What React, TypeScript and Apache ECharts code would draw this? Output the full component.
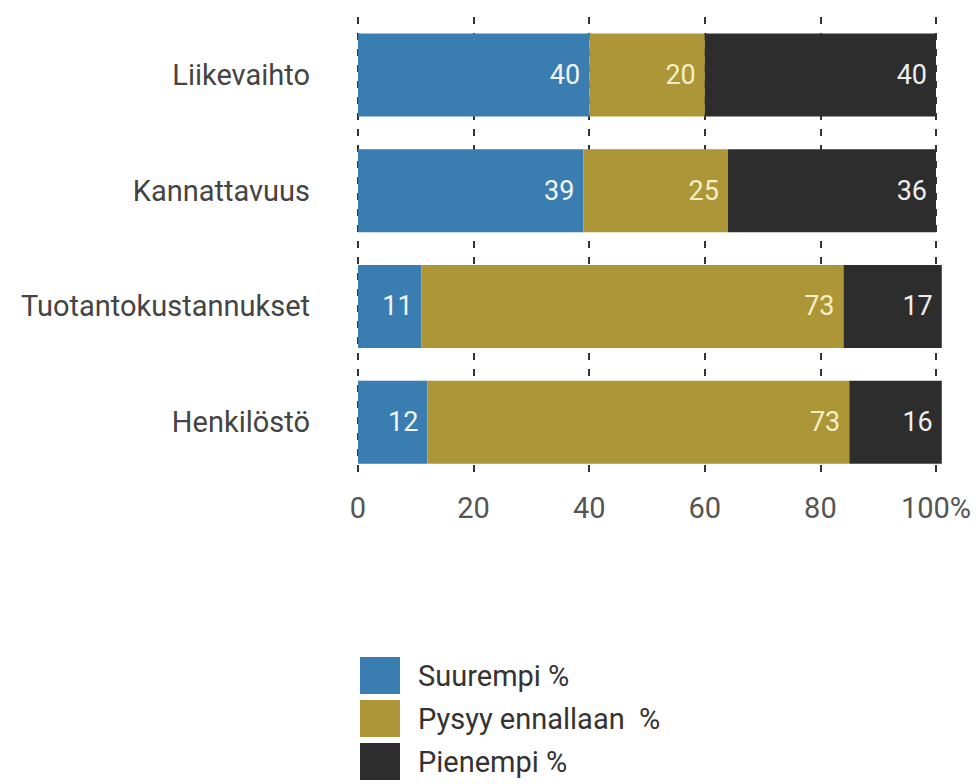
import React, { useEffect, useRef } from "react";
import * as echarts from "echarts";

const categories = ["Liikevaihto", "Kannattavuus", "Tuotantokustannukset", "Henkilöstö"];
const seriesNames = ["Suurempi %", "Pysyy ennallaan  %", "Pienempi %"];
const suurempi = [40, 39, 11, 12];
const pysyy = [20, 25, 73, 73];
const pienempi = [40, 36, 17, 16];
const colors = ["#3a7db0", "#ad9637", "#2d2d2d"];
const labelColors = ["#f2f6fa", "#f6efc6", "#eeeeee"];

const FONT = "Roboto, 'Noto Sans', sans-serif";

export default function App() {
  const ref = useRef<HTMLDivElement>(null);
  useEffect(() => {
    if (!ref.current) return;
    document.body.style.margin = "0";
    const chart = echarts.init(ref.current, null, { renderer: "svg" });
    const data = [suurempi, pysyy, pienempi];
    chart.setOption({
      animation: false,
      textStyle: { fontFamily: FONT },
      grid: { left: 358, right: 44, top: 17, bottom: 304, containLabel: false },
      legend: {
        orient: "vertical",
        left: 360,
        top: 657,
        padding: 0,
        itemWidth: 40,
        itemHeight: 37,
        itemGap: 6,
        icon: "rect",
        textStyle: { fontSize: 29, color: "#333", fontFamily: FONT, padding: [0, 0, 0, 13] },
        data: seriesNames,
      },
      xAxis: {
        type: "value",
        min: 0,
        max: 100,
        interval: 20,
        axisLine: { show: false },
        axisTick: { show: false },
        axisLabel: {
          fontSize: 29,
          color: "#555",
          margin: 13,
          fontFamily: FONT,
          formatter: (v: number) => (v === 100 ? "100%" : String(v)),
        },
        splitLine: { show: true, lineStyle: { color: "#333", width: 2, type: [7, 9] } },
      },
      yAxis: {
        type: "category",
        inverse: true,
        data: categories,
        axisLine: { show: false },
        axisTick: { show: false },
        axisLabel: { fontSize: 29, color: "#444", margin: 48, fontFamily: FONT },
      },
      series: seriesNames.map((name, i) => ({
        name,
        type: "bar",
        stack: "total",
        clip: false,
        barWidth: 83,
        itemStyle: { color: colors[i] },
        label: {
          show: true,
          position: "insideRight",
          distance: 9,
          fontSize: 27,
          color: labelColors[i],
          fontFamily: FONT,
        },
        data: data[i],
      })),
    });
    return () => chart.dispose();
  }, []);
  return <div ref={ref} style={{ width: 980, height: 784 }} />;
}
